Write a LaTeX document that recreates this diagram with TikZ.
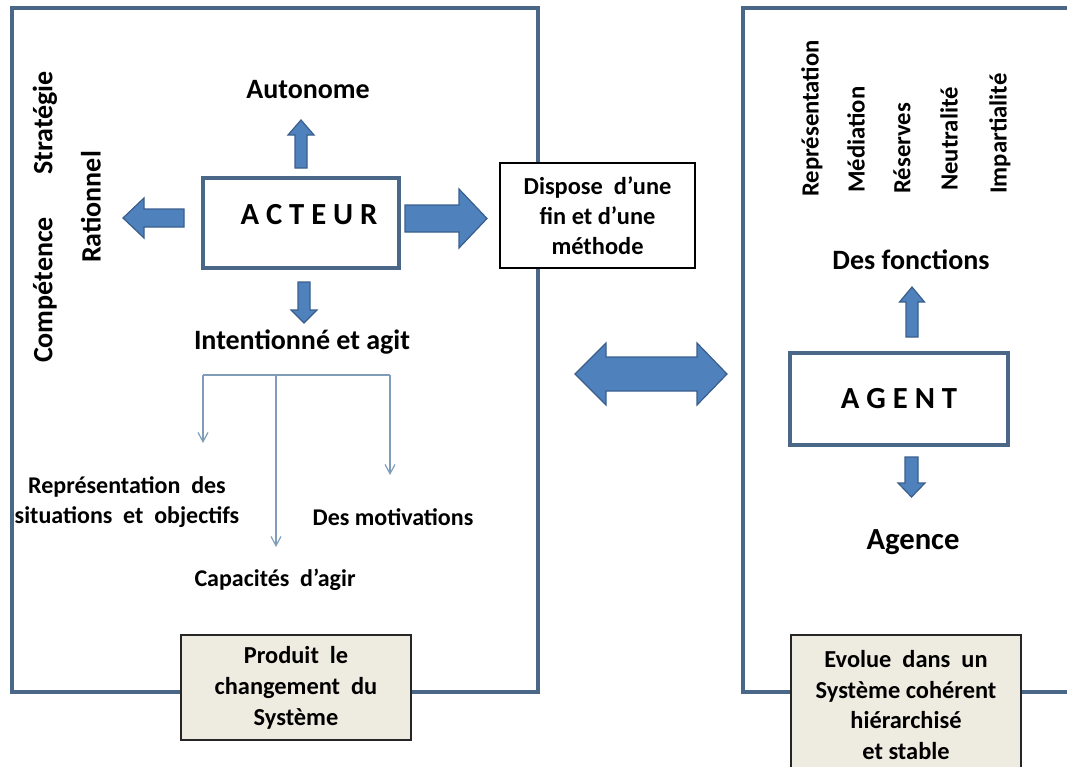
\documentclass[tikz,border=0pt]{standalone}
\usepackage{fontspec}
\setmainfont{Carlito}
\usetikzlibrary{arrows.meta}
\definecolor{framec}{HTML}{4B6788}
\definecolor{arrowfill}{HTML}{4F81BD}
\definecolor{arrowline}{HTML}{3A5E8C}
\definecolor{treec}{HTML}{7F9DB9}
\definecolor{notefill}{HTML}{EEECE1}
\newcommand\wsp{\hspace{0.45em}}
\tikzset{
  frame/.style={draw=framec, line width=2.6pt},
  mainbox/.style={draw=framec, line width=2.4pt, fill=white, inner sep=0pt},
  plainbox/.style={draw=black, line width=0.8pt, fill=white, inner sep=0pt, align=center,
    font=\fontsize{18.3}{22.5}\selectfont\bfseries},
  notebox/.style={draw=black!85, line width=1pt, fill=notefill, inner sep=0pt, align=center,
    font=\fontsize{18.3}{23.2}\selectfont\bfseries},
  bigtxt/.style={inner sep=0pt, font=\fontsize{21}{25}\selectfont\bfseries},
  hugetxt/.style={inner sep=0pt, font=\fontsize{23}{27}\selectfont\bfseries},
  smalltxt/.style={inner sep=0pt, align=center, font=\fontsize{18}{22.5}\selectfont\bfseries},
  vlabel/.style={inner sep=0pt, rotate=90, anchor=west, font=\fontsize{18.5}{22}\selectfont\bfseries},
  barrow/.style={fill=arrowfill, draw=arrowline, line width=0.9pt, line join=miter},
  tree/.style={draw=treec, line width=0.9pt},
  treetip/.style={tree, -{Straight Barb[length=7pt, width=7.5pt]}},
  pics/blockarrow/.style n args={4}{code={
    \filldraw[barrow] (0,-#2) -- ({#1-#4},-#2) -- ({#1-#4},-#3) -- (#1,0)
      -- ({#1-#4},#3) -- ({#1-#4},#2) -- (0,#2) -- cycle;
  }},
}
\begin{document}
\begin{tikzpicture}[x=0.75pt, y=-0.75pt]
\useasboundingbox (0,0) rectangle (1067,767);
\clip (0,0) rectangle (1067,767);

% outer frames
\draw[frame] (12,8) rectangle (538,692);
\draw[frame] (743,8) rectangle (1090,692);

% ---------- ACTEUR side ----------
\node[mainbox, minimum width={196*0.75pt}, minimum height={90*0.75pt}] (acteur) at (301,223) {};
\node[hugetxt] (acteurtxt) at (309,215) {A C T E U R};

\node[bigtxt] (autonome) at (308,90) {Autonome};
\pic[rotate=90] at (301,168) {blockarrow={48}{6}{13}{15}};

\pic[rotate=180] at (184,218) {blockarrow={61}{9}{20}{21}};
\node[bigtxt, rotate=90] (strategie) at (45,123) {Stratégie};
\node[bigtxt, rotate=90] (competence) at (45,290) {Compétence};
\node[bigtxt, rotate=90] (rationnel) at (91,207) {Rationnel};

\pic at (405,218.5) {blockarrow={82}{13.5}{29.5}{28}};
\node[plainbox, minimum width={195*0.75pt}, minimum height={105*0.75pt}] (dispose) at (597.5,215.5)
  {Dispose\wsp d’une\\fin et d’une\\méthode};

\pic[rotate=-90] at (304,282) {blockarrow={41}{6}{13}{13}};
\node[bigtxt] (intention) at (302,342) {Intentionné et agit};

% branching lines below
\coordinate (tl) at (203,375);
\coordinate (tm) at (276,375);
\coordinate (tr) at (390,375);
\coordinate (e1) at (203,443);
\coordinate (e2) at (276,547);
\coordinate (e3) at (390,475);
\draw[tree] (tl) -- (tr);
\draw[treetip] (tl) -- (e1);
\draw[treetip] (tm) -- (e2);
\draw[treetip] (tr) -- (e3);

\node[smalltxt] (repres) at (127,502) {Représentation\wsp des\\situations\wsp et\wsp objectifs};
\node[smalltxt] (motiv) at (393,517) {Des motivations};
\node[smalltxt] (capac) at (275,580) {Capacités\wsp d’agir};

\node[notebox, minimum width={230*0.75pt}, minimum height={105*0.75pt}] (produit) at (296,687.5)
  {Produit\wsp le\\changement\wsp du\\Système};

% ---------- link between the two sides ----------
\filldraw[barrow] (575,374) -- (606,343) -- (606,357) -- (697,357) -- (697,343) -- (727,374)
  -- (697,405) -- (697,391) -- (606,391) -- (606,405) -- cycle;

% ---------- AGENT side ----------
\node[vlabel] (f1) at (812,197) {Représentation};
\node[vlabel] (f2) at (856,193) {Médiation};
\node[vlabel] (f3) at (902,194) {Réserves};
\node[vlabel] (f4) at (949,191) {Neutralité};
\node[vlabel] (f5) at (1000,194) {Impartialité};

\node[bigtxt] (fonctions) at (911,260) {Des fonctions};
\pic[rotate=90] at (912,337) {blockarrow={50}{6}{12.5}{15}};

\node[mainbox, minimum width={218*0.75pt}, minimum height={92*0.75pt}, hugetxt] (agent) at (899,399) {A G E N T};

\pic[rotate=-90] at (911.5,457) {blockarrow={40}{6.5}{13.5}{14}};
\node[hugetxt] (agence) at (913,542) {Agence};

\node[notebox, minimum width={230*0.75pt}, minimum height={140*0.75pt}] (evolue) at (906,705)
  {Evolue\wsp dans\wsp un\\Système cohérent\\hiérarchisé\\et stable};
\end{tikzpicture}
\end{document}
